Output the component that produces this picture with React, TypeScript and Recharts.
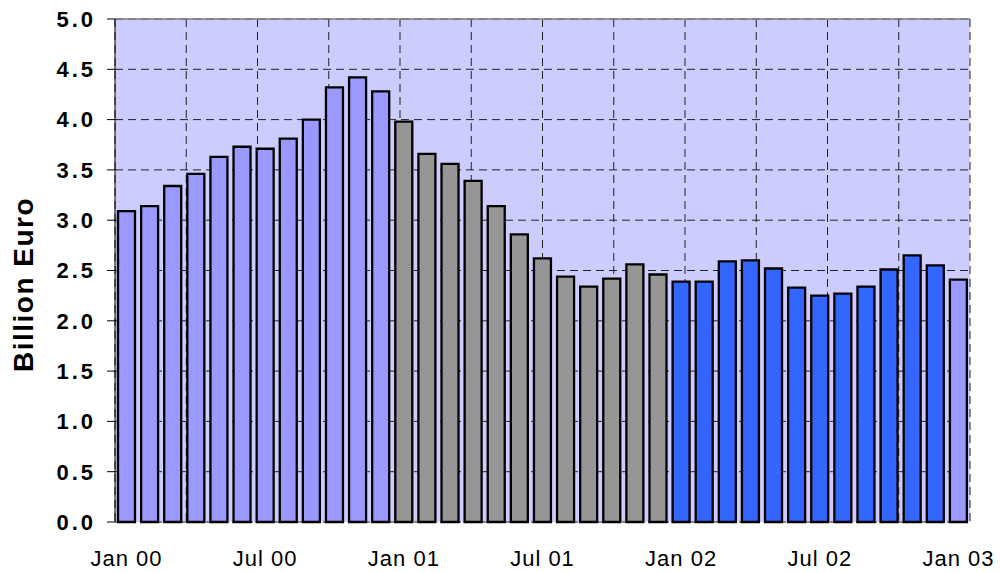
import React from "react";
import {
  BarChart,
  Bar,
  Cell,
  XAxis,
  YAxis,
  CartesianGrid,
  ReferenceLine,
  Label,
} from "recharts";

const months = ["Jan", "Feb", "Mar", "Apr", "May", "Jun", "Jul", "Aug", "Sep", "Oct", "Nov", "Dec"];
const years = ["00", "01", "02", "03"];

// monthly values, billion euro
const values2000 = [3.09, 3.14, 3.34, 3.46, 3.63, 3.73, 3.71, 3.81, 4.0, 4.32, 4.42, 4.28];
const values2001 = [3.98, 3.66, 3.56, 3.39, 3.14, 2.86, 2.62, 2.44, 2.34, 2.42, 2.56, 2.46];
const values2002 = [2.39, 2.39, 2.59, 2.6, 2.52, 2.33, 2.25, 2.27, 2.34, 2.51, 2.65, 2.55];
const values2003 = [2.41];

const yearValues = [values2000, values2001, values2002, values2003];
const yearColors = ["#9999FF", "#969696", "#3366FF", "#9999FF"];

const yTicks = [0, 0.5, 1, 1.5, 2, 2.5, 3, 3.5, 4, 4.5, 5];
// quarter boundaries, counted in months from Jan 00
const quarterMarks = [0, 3, 6, 9, 12, 15, 18, 21, 24, 27, 30, 33, 36];

const data = yearValues.flatMap((vals, y) =>
  vals.map((v, m) => ({
    month: `${months[m]} ${years[y]}`,
    value: v,
    color: yearColors[y],
  }))
);

const font = "'Liberation Sans', Arial, sans-serif";

const YTitle = (props: any) => {
  const { viewBox } = props;
  const x = viewBox.x + 33;
  const y = viewBox.y + viewBox.height / 2 + 14;
  return (
    <text
      x={x}
      y={y}
      transform={`rotate(-90 ${x} ${y})`}
      textAnchor="middle"
      fontFamily={font}
      fontSize={28}
      fontWeight="bold"
      letterSpacing={1.5}
      fill="#000"
    >
      Billion Euro
    </text>
  );
};

export default function App() {
  return (
    <div style={{ position: "absolute", left: 0, top: 0, fontFamily: font }}>
      <BarChart
        width={1000}
        height={573}
        data={data}
        margin={{ top: 19, right: 30, bottom: 0, left: 0 }}
      >
        <CartesianGrid
          xAxisId="marks"
          strokeDasharray="8 5"
          stroke="#222"
          fill="#CCCCFF"
          fillOpacity={1}
        />
        <XAxis
          xAxisId="marks"
          type="number"
          domain={[0, data.length]}
          ticks={quarterMarks}
          tickFormatter={() => ""}
          tickSize={8}
          tickLine={{ stroke: "#000" }}
          axisLine={{ stroke: "#000" }}
          height={0}
        />
        <XAxis
          xAxisId="cat"
          dataKey="month"
          interval={5}
          tickLine={false}
          axisLine={false}
          tickSize={0}
          tickMargin={28}
          height={51}
          tick={{ fill: "#000", fontSize: 22, letterSpacing: 1, fontFamily: font }}
        />
        <YAxis
          domain={[0, 5]}
          ticks={yTicks}
          width={115}
          tickFormatter={(v: number) => v.toFixed(1)}
          tickSize={8}
          tickMargin={11}
          tickLine={{ stroke: "#000" }}
          axisLine={{ stroke: "#000" }}
          tick={{ fill: "#000", fontSize: 22, fontWeight: "bold", letterSpacing: 3, fontFamily: font }}
        >
          <Label content={<YTitle />} />
        </YAxis>
        <Bar
          dataKey="value"
          xAxisId="cat"
          barSize={17}
          stroke="#000"
          strokeWidth={2.3}
          isAnimationActive={false}
        >
          {data.map((d, i) => (
            <Cell key={i} fill={d.color} />
          ))}
        </Bar>
        <ReferenceLine y={5} xAxisId="marks" stroke="#808080" strokeWidth={1.5} />
        <ReferenceLine x={data.length} xAxisId="marks" stroke="#808080" strokeWidth={1.5} />
      </BarChart>
    </div>
  );
}
